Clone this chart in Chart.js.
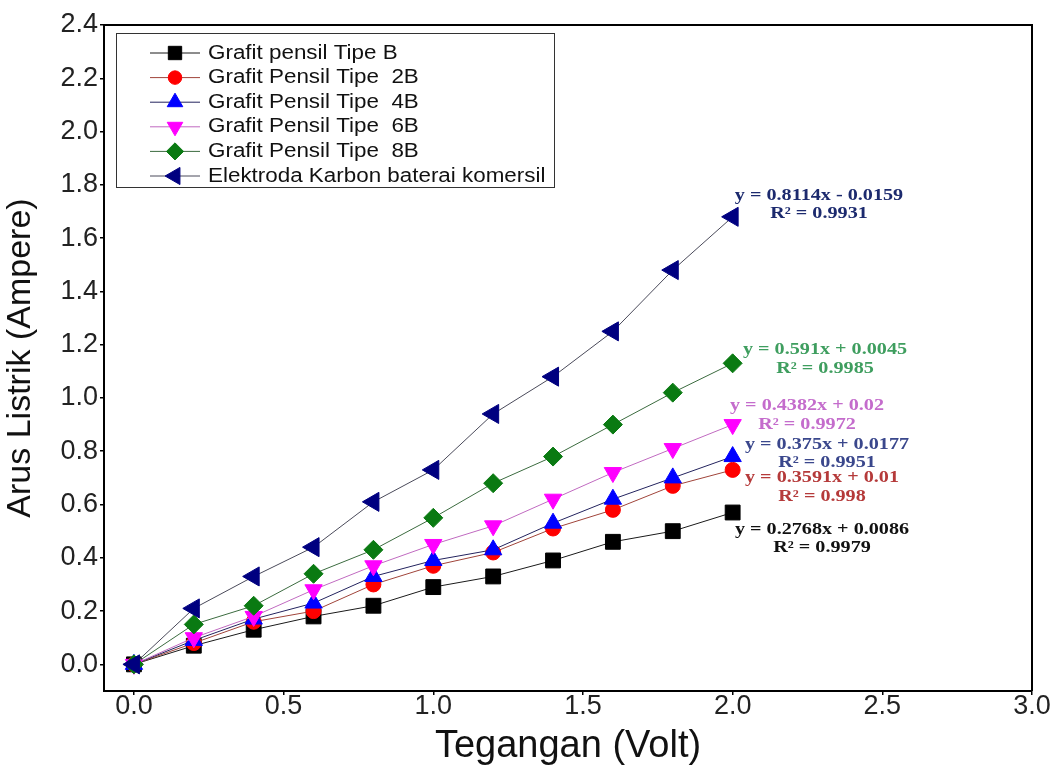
<!DOCTYPE html>
<html>
<head>
<meta charset="utf-8">
<script src="https://cdn.jsdelivr.net/npm/chart.js@4.4.0/dist/chart.umd.min.js"></script>
<style>
  body { margin: 0; background: #fff; }
</style>
</head>
<body>
<canvas id="iv-chart" width="1055" height="767"></canvas>
<script>
// tegangan (V) dan arus (A)
const voltage  = [0, 0.2, 0.4, 0.6, 0.8, 1.0, 1.2, 1.4, 1.6, 1.8, 2.0];
const tipeB    = [0, 0.07, 0.13, 0.18, 0.22, 0.29, 0.33, 0.39, 0.46, 0.50, 0.57];
const tipe2B   = [0, 0.08, 0.16, 0.20, 0.30, 0.37, 0.42, 0.51, 0.58, 0.67, 0.73];
const tipe4B   = [0, 0.09, 0.17, 0.23, 0.33, 0.39, 0.43, 0.53, 0.62, 0.70, 0.78];
const tipe6B   = [0, 0.10, 0.18, 0.28, 0.37, 0.45, 0.52, 0.62, 0.72, 0.81, 0.90];
const tipe8B   = [0, 0.15, 0.22, 0.34, 0.43, 0.55, 0.68, 0.78, 0.90, 1.02, 1.13];
const komersil = [0, 0.21, 0.33, 0.44, 0.61, 0.73, 0.94, 1.08, 1.25, 1.48, 1.68];

const seriesNames = [
  'Grafit pensil Tipe B',
  'Grafit Pensil Tipe  2B',
  'Grafit Pensil Tipe  4B',
  'Grafit Pensil Tipe  6B',
  'Grafit Pensil Tipe  8B',
  'Elektroda Karbon baterai komersil'
];
const eqLabels = [
  'y = 0.2768x + 0.0086',
  'y = 0.3591x + 0.01',
  'y = 0.375x + 0.0177',
  'y = 0.4382x + 0.02',
  'y = 0.591x + 0.0045',
  'y = 0.8114x - 0.0159'
];
const r2Labels = ['R² = 0.9979', 'R² = 0.998', 'R² = 0.9951', 'R² = 0.9972', 'R² = 0.9985', 'R² = 0.9931'];

const xTicks = [0, 0.5, 1.0, 1.5, 2.0, 2.5, 3.0];
const yTicks = [0, 0.2, 0.4, 0.6, 0.8, 1.0, 1.2, 1.4, 1.6, 1.8, 2.0, 2.2, 2.4];

const allSeries = [tipeB, tipe2B, tipe4B, tipe6B, tipe8B, komersil];

const looks = [
  { fill: '#000000', line: '#1a1a1a', shape: 'rect',     r: 10.5, rot: 0,   text: '#111111' },
  { fill: '#ff0000', line: '#a0443a', shape: 'circle',   r: 7.5,  rot: 0,   text: '#b53a3a' },
  { fill: '#0000ff', line: '#23235e', shape: 'triangle', r: 10,   rot: 0,   text: '#3a478c' },
  { fill: '#ff00ff', line: '#c06ac0', shape: 'triangle', r: 10,   rot: 180, text: '#c46ccc' },
  { fill: '#0a7a12', line: '#3b6b3f', shape: 'rectRot',  r: 9.5,  rot: 0,   text: '#3f9e5f' },
  { fill: '#000080', line: '#4a4a5a', shape: 'triangle', r: 11,   rot: -90, text: '#1c2a6e' }
];

// posisi teks persamaan (piksel): x tengah, y baris 1, y baris 2
const eqPos = [
  [822, 530, 548], [822, 478, 497], [827, 445, 463],
  [807, 406, 425], [825, 350, 369], [819, 196, 214]
];

function stretchText(c, txt, x, y, sx) {
  c.save();
  c.translate(x, y);
  c.scale(sx, 1);
  c.fillText(txt, 0, 0);
  c.restore();
}

const extras = {
  id: 'extras',
  afterDraw(chart) {
    const c = chart.ctx;
    const a = chart.chartArea;
    c.save();
    // bingkai atas dan kanan
    c.strokeStyle = '#000';
    c.lineWidth = 2;
    c.beginPath();
    c.moveTo(a.left, a.top);
    c.lineTo(a.right, a.top);
    c.lineTo(a.right, a.bottom);
    c.stroke();

    // legenda
    c.lineWidth = 1;
    c.strokeStyle = '#333';
    c.strokeRect(116.5, 33.5, 438, 154);
    c.font = '20px "Liberation Sans", Arial, sans-serif';
    c.textBaseline = 'middle';
    c.textAlign = 'left';
    seriesNames.forEach((name, i) => {
      const y = 53 + i * 24.6;
      const lk = looks[i];
      c.strokeStyle = lk.line;
      c.lineWidth = 1;
      c.beginPath();
      c.moveTo(150, y);
      c.lineTo(200, y);
      c.stroke();
      c.fillStyle = lk.fill;
      c.strokeStyle = lk.fill;
      Chart.helpers.drawPoint(c, { pointStyle: lk.shape, radius: lk.r * 0.9, rotation: lk.rot, borderWidth: 1 }, 175, y);
      c.fillStyle = '#111';
      stretchText(c, name, 208, y, 1.12);
    });

    // persamaan regresi
    c.font = 'bold 16px "Liberation Serif", "Times New Roman", serif';
    c.textAlign = 'center';
    eqLabels.forEach((eq, i) => {
      const p = eqPos[i];
      c.fillStyle = looks[i].text;
      stretchText(c, eq, p[0], p[1], 1.26);
      stretchText(c, r2Labels[i], p[0], p[2], 1.26);
    });
    c.restore();
  }
};

const tickFont = { family: '"Liberation Sans", Arial, sans-serif', size: 27 };

new Chart(document.getElementById('iv-chart').getContext('2d'), {
  type: 'line',
  data: {
    datasets: allSeries.map((vals, i) => ({
      label: seriesNames[i],
      data: vals.map((v, k) => ({ x: voltage[k], y: v })),
      borderColor: looks[i].line,
      borderWidth: 1,
      backgroundColor: looks[i].fill,
      pointBackgroundColor: looks[i].fill,
      pointBorderColor: looks[i].fill,
      pointBorderWidth: 1,
      pointStyle: looks[i].shape,
      pointRadius: looks[i].r,
      pointRotation: looks[i].rot,
      tension: 0,
      order: 5 - i
    }))
  },
  options: {
    responsive: false,
    animation: false,
    layout: { padding: { top: 25, right: 23, left: 0, bottom: 0 } },
    plugins: { legend: { display: false }, tooltip: { enabled: false } },
    scales: {
      x: {
        type: 'linear',
        min: -0.1,
        max: 3.0,
        afterBuildTicks: s => { s.ticks = xTicks.map(v => ({ value: v })); },
        afterFit: s => { s.height = 76; },
        ticks: { font: tickFont, color: '#222', padding: -5, autoSkip: false, maxRotation: 0,
                 callback: v => Number(v).toFixed(1) },
        grid: { drawOnChartArea: false, color: '#000', tickLength: 4, lineWidth: 1.5 },
        border: { color: '#000', width: 2 },
        title: { display: true, text: 'Tegangan (Volt)', color: '#111',
                 font: { family: '"Liberation Sans", Arial, sans-serif', size: 38 },
                 padding: { top: 0, bottom: -2 } }
      },
      y: {
        min: -0.1,
        max: 2.4,
        afterBuildTicks: s => { s.ticks = yTicks.map(v => ({ value: v })); },
        afterFit: s => { s.width = 104; },
        ticks: { font: tickFont, color: '#222', padding: 2, autoSkip: false,
                 callback: v => Number(v).toFixed(1) },
        grid: { drawOnChartArea: false, color: '#000', tickLength: 4, lineWidth: 1.5 },
        border: { color: '#000', width: 2 },
        title: { display: true, text: 'Arus Listrik (Ampere)', color: '#111',
                 font: { family: '"Liberation Sans", Arial, sans-serif', size: 34 },
                 padding: { top: 0, bottom: 0 } }
      }
    }
  },
  plugins: [extras]
});
</script>
</body>
</html>
